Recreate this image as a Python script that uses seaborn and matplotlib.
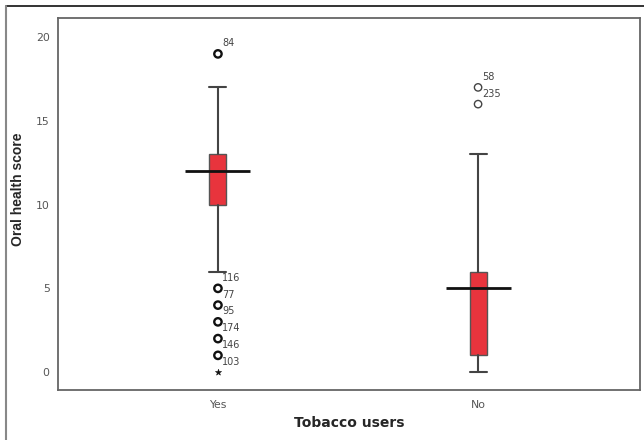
import matplotlib
matplotlib.use("Agg")
import numpy as np
import pandas as pd
import seaborn as sns
import matplotlib.pyplot as plt
from matplotlib.lines import Line2D

# box summaries
groups = ['Yes', 'No']
q1 = [10, 1]
medians = [12, 5]
q3 = [13, 6]
whisker_low = [6, 0]
whisker_high = [17, 13]

# outliers (circles) with their case labels
outlier_group = ['Yes', 'Yes', 'Yes', 'Yes', 'Yes', 'Yes', 'No', 'No']
outlier_value = [19, 5, 4, 3, 2, 1, 17, 16]
outlier_label = ['84', '116', '77', '95', '174', '146', '58', '235']

# extreme values (stars)
extreme_group = ['Yes']
extreme_value = [0]
extreme_label = ['103']

sns.set_style('white')
plt.rcParams['font.family'] = ['DejaVu Sans']

fig = plt.figure(figsize=(6.44, 4.40), dpi=100)
ax = fig.add_axes([0.090, 0.1136, 0.904, 0.845])

stats = []
for i, g in enumerate(groups):
  stats.append(dict(label=g, q1=q1[i], med=medians[i], q3=q3[i],
                    whislo=whisker_low[i], whishi=whisker_high[i], fliers=[]))

ax.bxp(stats, positions=range(len(groups)), widths=0.065, patch_artist=True,
       showfliers=False,
       boxprops=dict(facecolor='#E8343D', edgecolor='#555555', linewidth=1.0),
       whiskerprops=dict(color='#444444', linewidth=1.5),
       capprops=dict(color='#444444', linewidth=1.5),
       capwidths=0.065,
       medianprops=dict(linewidth=0))

# long SPSS-style median bar
pos = np.arange(len(groups))
ax.hlines(medians, pos - 0.125, pos + 0.125, color='#111111', linewidth=2)

df = pd.DataFrame({'pos': [groups.index(g) for g in outlier_group],
                   'value': outlier_value, 'label': outlier_label,
                   'group': outlier_group})
yes = df[df.group == 'Yes']
no = df[df.group == 'No']
sns.scatterplot(data=yes, x='pos', y='value', ax=ax, marker='o', s=28,
                facecolor='none', edgecolor='#111111', linewidth=1.7, zorder=4)
sns.scatterplot(data=no, x='pos', y='value', ax=ax, marker='o', s=28,
                facecolor='none', edgecolor='#444444', linewidth=1.0, zorder=4)

ext = pd.DataFrame({'pos': [groups.index(g) for g in extreme_group],
                    'value': extreme_value, 'label': extreme_label})
sns.scatterplot(data=ext, x='pos', y='value', ax=ax, marker='*', s=22,
                color='#111111', edgecolor='#111111', zorder=4)

for d in (df, ext):
  for _, r in d.iterrows():
    ax.annotate(r['label'], (r['pos'], r['value']), xytext=(3, 7.5),
                textcoords='offset points', ha='left', va='center',
                fontsize=7, color='#444444')

ax.set_xlim(-0.615, 1.623)
ax.set_ylim(-1.07, 21.13)
ax.set_xticks(pos)
ax.set_xticklabels(groups)
ax.set_yticks([0, 5, 10, 15, 20])
ax.tick_params(axis='both', labelsize=7.8, colors='#555555', direction='out')
ax.tick_params(axis='y', length=5, width=1, pad=1)
ax.tick_params(axis='x', length=4, width=1, pad=3)
for s in ax.spines.values():
  s.set_color('#666666')
  s.set_linewidth(1.3)

ax.set_ylabel('Oral health score', fontsize=10, fontweight='bold',
              family=['Liberation Sans', 'DejaVu Sans'])
ax.yaxis.set_label_coords(-0.057, 0.54)
ax.set_xlabel('Tobacco users', fontsize=10, fontweight='bold')
ax.xaxis.label.set_va('center')
ax.xaxis.set_label_coords(0.5, -0.089)

# outer frame lines of the original figure
fig.add_artist(Line2D([6 / 644, 1], [1 - 6 / 440, 1 - 6 / 440], color='#111111', linewidth=1.2))
fig.add_artist(Line2D([6 / 644, 6 / 644], [0, 1 - 6 / 440], color='#888888', linewidth=1.5))

fig.savefig('out.png', dpi=100)
